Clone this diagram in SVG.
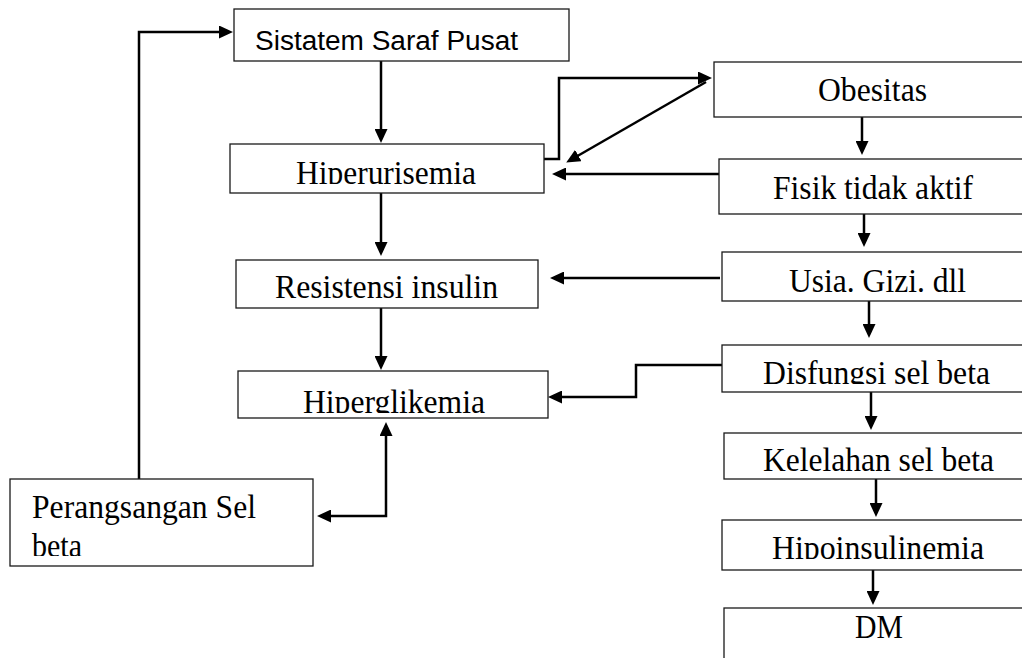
<svg xmlns="http://www.w3.org/2000/svg" width="1022" height="658" viewBox="0 0 1022 658">
<style>
.box{fill:#fff;stroke:#1a1a1a;stroke-width:1.3}
.t{font-family:"Liberation Serif","Times New Roman",serif;font-size:33px;fill:#000}
.s{font-family:"Liberation Sans",Arial,sans-serif;font-size:27px;fill:#000}
.c{fill:none;stroke:#000;stroke-width:2.5}
</style>
<defs>
<marker id="ah" viewBox="0 0 14 13" refX="5" refY="6.5" markerWidth="14" markerHeight="13" markerUnits="userSpaceOnUse" orient="auto-start-reverse">
<path d="M0,0 L14,6.5 L0,13 z" fill="#000"/>
</marker>
<clipPath id="cHu"><rect x="230" y="144" width="314" height="40"/></clipPath>
<clipPath id="cHg"><rect x="238" y="371" width="310" height="42"/></clipPath>
<clipPath id="cDs"><rect x="722" y="345" width="300" height="39"/></clipPath>
<clipPath id="cKl"><rect x="724" y="433" width="298" height="38"/></clipPath>
<clipPath id="cHp"><rect x="722" y="520" width="300" height="39"/></clipPath>
<clipPath id="cPr"><rect x="10" y="479" width="303" height="77"/></clipPath>
</defs>
<g id="connectors">
<path class="c" d="M381,61 V134" marker-end="url(#ah)"/>
<path class="c" d="M381,193 V247" marker-end="url(#ah)"/>
<path class="c" d="M381,308 V361" marker-end="url(#ah)"/>
<path class="c" d="M139,479 V32 H224" marker-end="url(#ah)"/>
<path class="c" d="M326,516 H386 V431" marker-start="url(#ah)" marker-end="url(#ah)"/>
<path class="c" d="M544,159 H559 V78 H703" marker-end="url(#ah)"/>
<path class="c" d="M706,82 L574,158" marker-end="url(#ah)"/>
<path class="c" d="M719,174 H561" marker-end="url(#ah)"/>
<path class="c" d="M862,117 V146" marker-end="url(#ah)"/>
<path class="c" d="M864,214 V238" marker-end="url(#ah)"/>
<path class="c" d="M720,278 H559" marker-end="url(#ah)"/>
<path class="c" d="M869,301 V329" marker-end="url(#ah)"/>
<path class="c" d="M722,365 H636 V397 H557" marker-end="url(#ah)"/>
<path class="c" d="M871,392 V421" marker-end="url(#ah)"/>
<path class="c" d="M876,479 V508" marker-end="url(#ah)"/>
<path class="c" d="M873,570 V596" marker-end="url(#ah)"/>
</g>
<g id="n-ssp">
<rect class="box" x="234" y="9" width="335" height="52"/>
<text class="s" x="255" y="50" textLength="263" lengthAdjust="spacingAndGlyphs">Sistatem Saraf Pusat</text>
</g>
<g id="n-hiperurisemia">
<rect class="box" x="230" y="144" width="314" height="49"/>
<text class="t" x="296" y="184" textLength="180" lengthAdjust="spacingAndGlyphs" clip-path="url(#cHu)">Hiperurisemia</text>
</g>
<g id="n-obesitas">
<rect class="box" x="714" y="62" width="330" height="55"/>
<text class="t" x="818" y="101" textLength="109" lengthAdjust="spacingAndGlyphs">Obesitas</text>
</g>
<g id="n-fisik">
<rect class="box" x="719" y="159" width="330" height="55"/>
<text class="t" x="773" y="199" textLength="200" lengthAdjust="spacingAndGlyphs">Fisik tidak aktif</text>
</g>
<g id="n-resistensi">
<rect class="box" x="236" y="260" width="302" height="48"/>
<text class="t" x="275" y="298" textLength="223" lengthAdjust="spacingAndGlyphs">Resistensi insulin</text>
</g>
<g id="n-usia">
<rect class="box" x="722" y="252" width="330" height="49"/>
<text class="t" x="789" y="292" textLength="177" lengthAdjust="spacingAndGlyphs">Usia. Gizi. dll</text>
</g>
<g id="n-hiperglikemia">
<rect class="box" x="238" y="371" width="310" height="47"/>
<text class="t" x="303" y="413" textLength="182" lengthAdjust="spacingAndGlyphs" clip-path="url(#cHg)">Hiperglikemia</text>
</g>
<g id="n-disfungsi">
<rect class="box" x="722" y="345" width="330" height="47"/>
<text class="t" x="763" y="384" textLength="227" lengthAdjust="spacingAndGlyphs" clip-path="url(#cDs)">Disfungsi sel beta</text>
</g>
<g id="n-kelelahan">
<rect class="box" x="724" y="433" width="330" height="46"/>
<text class="t" x="763" y="471" textLength="231" lengthAdjust="spacingAndGlyphs" clip-path="url(#cKl)">Kelelahan sel beta</text>
</g>
<g id="n-hipoinsulinemia">
<rect class="box" x="722" y="520" width="330" height="50"/>
<text class="t" x="772" y="559" textLength="212" lengthAdjust="spacingAndGlyphs" clip-path="url(#cHp)">Hipoinsulinemia</text>
</g>
<g id="n-dm">
<rect class="box" x="724" y="608" width="330" height="70"/>
<text class="t" x="855" y="638" textLength="48" lengthAdjust="spacingAndGlyphs">DM</text>
</g>
<g id="n-perangsangan">
<rect class="box" x="10" y="479" width="303" height="87"/>
<g clip-path="url(#cPr)">
<text class="t" x="32" y="518" textLength="224" lengthAdjust="spacingAndGlyphs">Perangsangan Sel</text>
<text class="t" x="32" y="557" textLength="50" lengthAdjust="spacingAndGlyphs">beta</text>
</g>
</g>
</svg>
